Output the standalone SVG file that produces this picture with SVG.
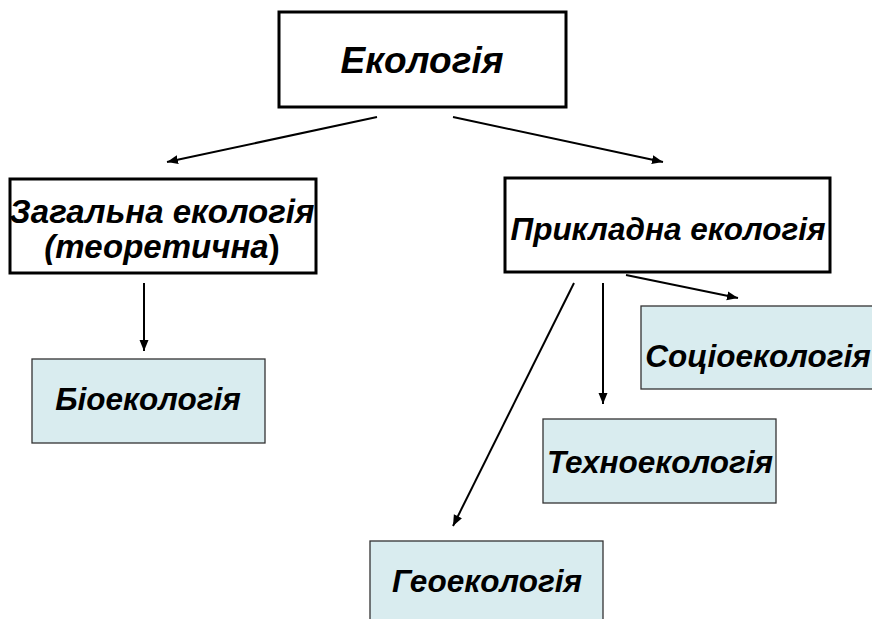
<svg xmlns="http://www.w3.org/2000/svg" width="872" height="619" viewBox="0 0 872 619">
<defs>
<style>
.main{fill:#ffffff;stroke:#000000;stroke-width:3}
.sub{fill:#d9ecef;stroke:#333333;stroke-width:1.3}
.t{font-family:"Liberation Sans",Arial,sans-serif;font-weight:bold;font-style:italic;font-size:31.5px;fill:#000000;text-anchor:middle}
.c{stroke:#000000;stroke-width:2;fill:none;marker-end:url(#ah)}
</style>
<marker id="ah" markerUnits="userSpaceOnUse" markerWidth="12" markerHeight="10" viewBox="0 0 12 10" refX="11" refY="5" orient="auto">
<path d="M0,0.5 L11,5 L0,9.5 Z" fill="#000000"/>
</marker>
</defs>
<rect width="872" height="619" fill="#ffffff"/>
<g id="connectors">
<line class="c" x1="377" y1="117" x2="167" y2="162"/>
<line class="c" x1="453" y1="117" x2="663" y2="162"/>
<line class="c" x1="144" y1="283" x2="144" y2="351"/>
<line class="c" x1="626" y1="275" x2="738" y2="298"/>
<line class="c" x1="603" y1="283" x2="603" y2="404"/>
<line class="c" x1="574" y1="283" x2="453" y2="526"/>
</g>
<g id="ekologia">
<rect class="main" x="279" y="12" width="287" height="95"/>
<text class="t" x="422" y="73" style="font-size:37px">Екологія</text>
</g>
<g id="zagalna">
<rect class="main" x="10" y="179" width="306" height="94"/>
<text class="t" x="162" y="223" style="font-size:33px">Загальна екологія</text>
<text class="t" x="162" y="258" style="font-size:33px">(<tspan>теоретична</tspan><tspan font-style="normal">)</tspan></text>
</g>
<g id="prykladna">
<rect class="main" x="505" y="178" width="325" height="94"/>
<text class="t" x="668" y="240">Прикладна екологія</text>
</g>
<g id="bioekologia">
<rect class="sub" x="32" y="359" width="233" height="84"/>
<text class="t" x="148" y="410">Біоекологія</text>
</g>
<g id="socioekologia">
<rect class="sub" x="641" y="306" width="233" height="83"/>
<text class="t" x="758" y="367">Соціоекологія</text>
</g>
<g id="tehnoekologia">
<rect class="sub" x="543" y="419" width="233" height="84"/>
<text class="t" x="660" y="473">Техноекологія</text>
</g>
<g id="geoekologia">
<rect class="sub" x="370" y="541" width="233" height="84"/>
<text class="t" x="487" y="592">Геоекологія</text>
</g>
</svg>
